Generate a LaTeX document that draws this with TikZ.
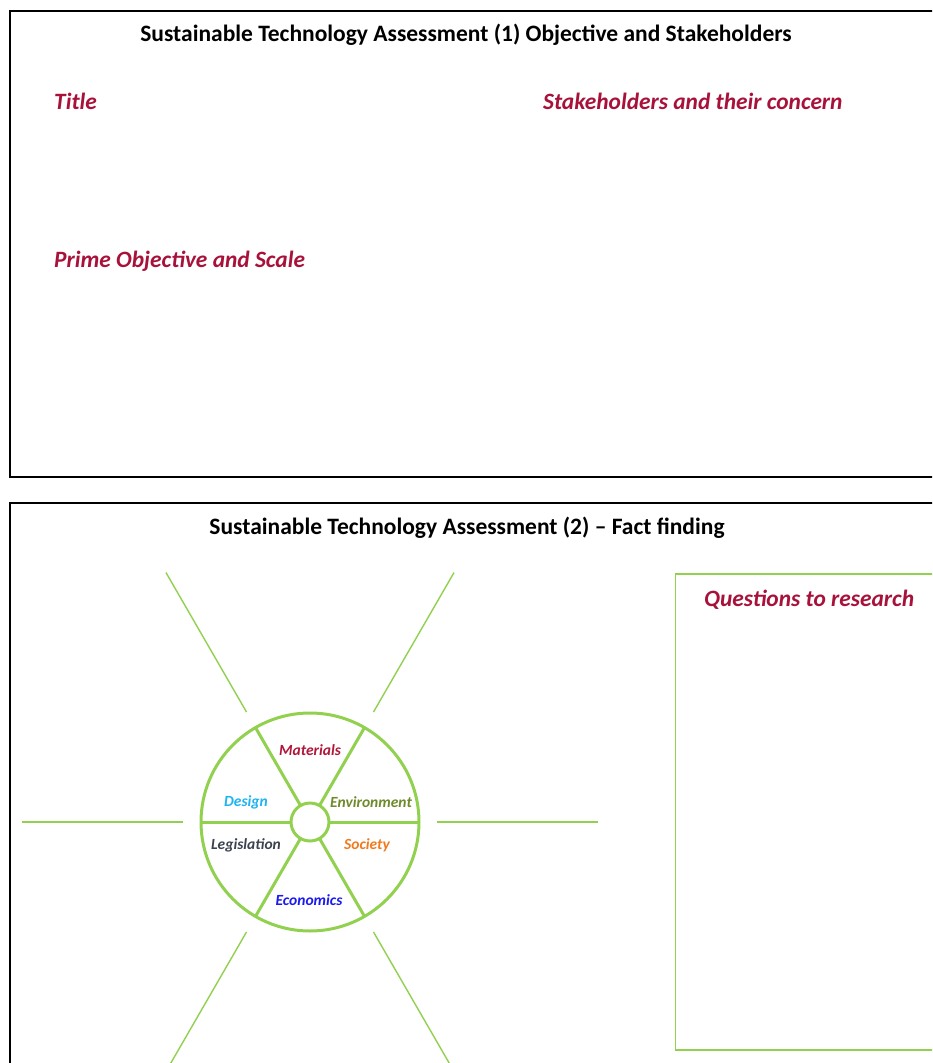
\documentclass[tikz,border=0pt]{standalone}
\usepackage{fontspec}
\setmainfont{Carlito}
\usetikzlibrary{calc}
\definecolor{leafgreen}{HTML}{92D050}
\definecolor{headred}{HTML}{A8123A}
\definecolor{matred}{HTML}{B0163A}
\definecolor{desblue}{HTML}{1EB4F0}
\definecolor{envolive}{HTML}{6E8A2A}
\definecolor{legslate}{HTML}{3C4350}
\definecolor{socorange}{HTML}{F07A1E}
\definecolor{ecoblue}{HTML}{1A1AF0}
\tikzset{
  frame/.style={draw=black,line width=2.6pt},
  banner/.style={font=\bfseries\fontsize{23.5}{28}\selectfont,inner sep=0pt},
  heading/.style={font=\bfseries\itshape\fontsize{23.4}{28}\selectfont,text=headred,anchor=west,inner sep=0pt},
  rim/.style={draw=leafgreen,line width=3pt},
  ray/.style={draw=leafgreen,line width=1.4pt},
  sector/.style={font=\bfseries\itshape\fontsize{15.5}{18}\selectfont,inner sep=0pt}
}
\begin{document}
\begin{tikzpicture}[x=1pt,y=-1pt]
  \useasboundingbox (0,0) rectangle (932,1063);
  \clip (0,0) rectangle (932,1063);

  % panel 1: objective and stakeholders
  \draw[frame] (10,11) rectangle (950,477);
  \node[banner] (head1) at (466,35) {Sustainable Technology Assessment (1) Objective and Stakeholders};
  \node[heading] (title) at (54,101) {Title};
  \node[heading] (stake) at (543,101) {Stakeholders and their concern};
  \node[heading] (prime) at (54,261) {Prime Objective and Scale};

  % panel 2: fact finding
  \draw[frame] (10,503) rectangle (950,1090);
  \node[banner] (head2) at (467,528) {Sustainable Technology Assessment (2) -- Fact finding};
  \draw[draw=leafgreen,line width=1.8pt] (675.5,574) rectangle (950,1050);
  \node[heading] (quest) at (704,600) {Questions to research};

  % the wheel
  \coordinate (hub) at (310,822);
  \draw[rim] (hub) circle (109);
  \draw[rim] (hub) circle (19);
  \foreach \a in {0,60,...,300}{
    \draw[rim] ($(hub)+(\a:19)$) -- ($(hub)+(\a:109)$);
    \draw[ray] ($(hub)+(\a:127)$) -- ($(hub)+(\a:288)$);
  }
  \node[sector,text=matred] (mat) at ($(hub)+(0,-72)$) {Materials};
  \node[sector,text=desblue] (des) at ($(hub)+(-64,-20)$) {Design};
  \node[sector,text=envolive] (env) at ($(hub)+(61,-20)$) {Environment};
  \node[sector,text=legslate] (leg) at ($(hub)+(-64,23)$) {Legislation};
  \node[sector,text=socorange] (soc) at ($(hub)+(57,23)$) {Society};
  \node[sector,text=ecoblue] (eco) at ($(hub)+(-1,78)$) {Economics};
\end{tikzpicture}
\end{document}
